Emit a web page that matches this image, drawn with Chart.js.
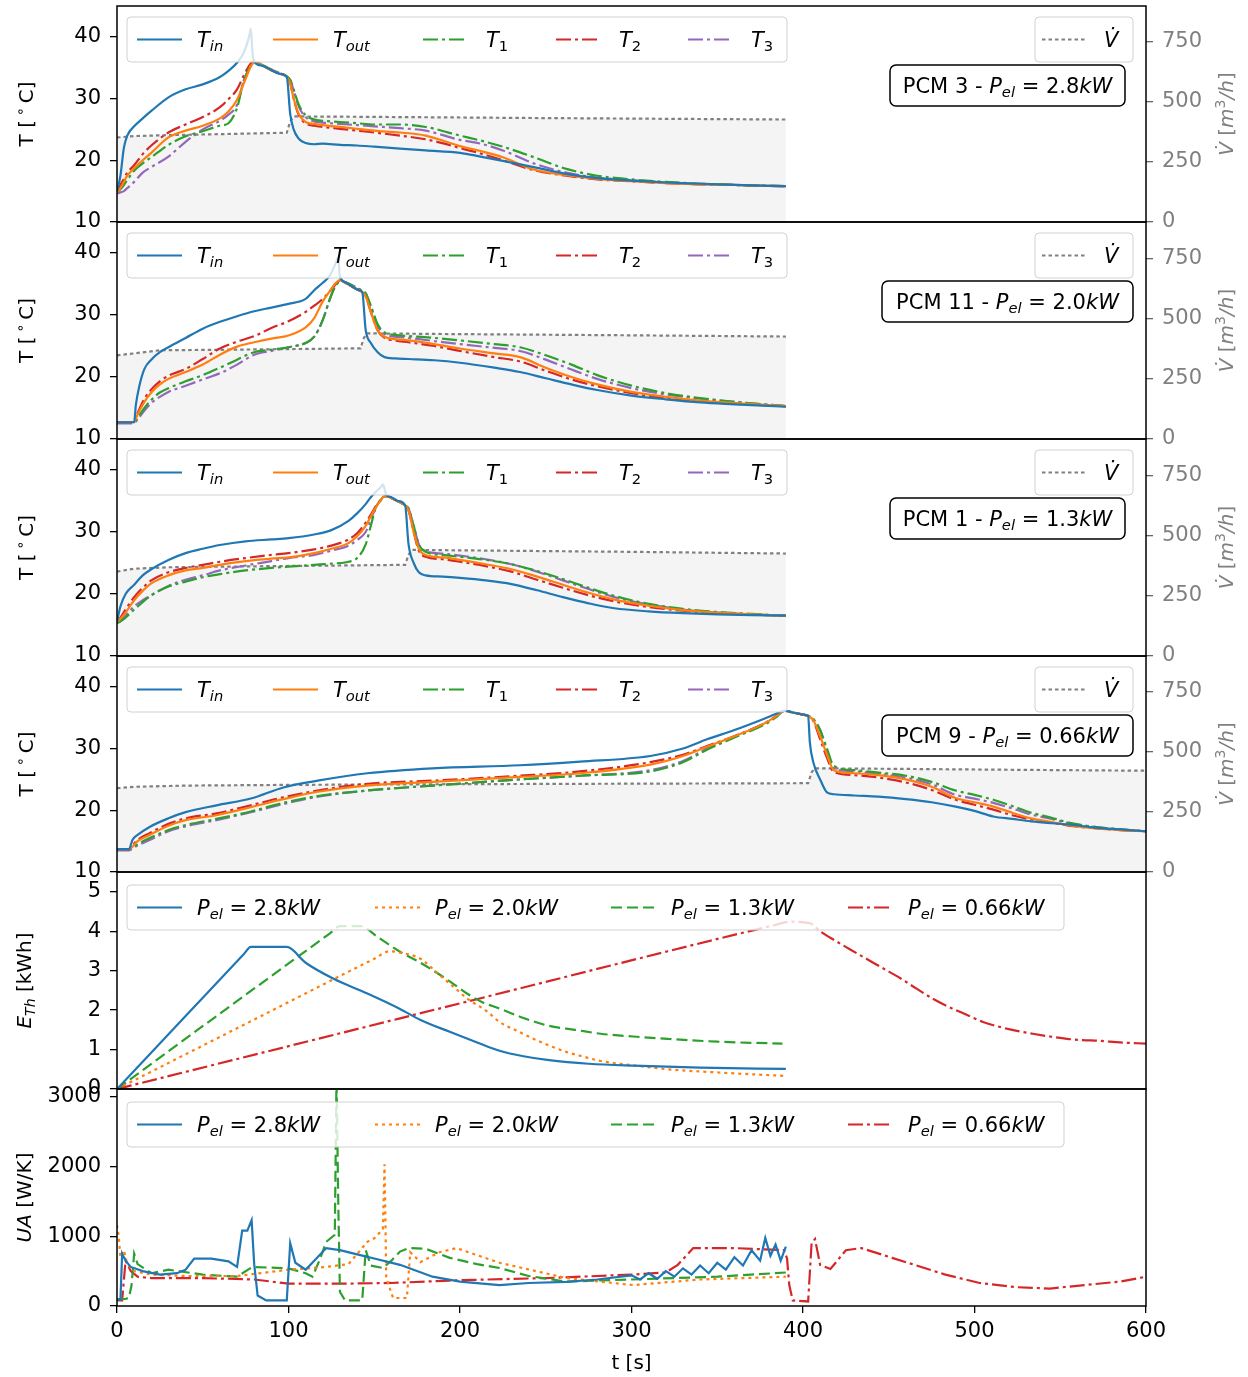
<!DOCTYPE html>
<html lang="en">
<head>
  <meta charset="UTF-8">
  <title>PCM storage tests</title>
  <script src="https://cdn.jsdelivr.net/npm/chart.js@4.4.0/dist/chart.umd.min.js"></script>
  <style>
    body { margin: 0; background: #fff; }
    #wrap { position: relative; width: 1248px; height: 1377px; }
    #wrap canvas { position: absolute; left: 0; top: 0; }
  </style>
</head>
<body>
  <div id="wrap"></div>

  <script>
    // ---------- data ----------
    const pcmNames = ['PCM 3', 'PCM 11', 'PCM 1', 'PCM 9'];
    const powers = ['2.8', '2.0', '1.3', '0.66'];

    // tick labels
    const tTicks = [10, 20, 30, 40];
    const vTicks = [0, 250, 500, 750];
    const eTicks = [0, 1, 2, 3, 4, 5];
    const uaTicks = [0, 1000, 2000, 3000];
    const xTicks = [0, 100, 200, 300, 400, 500, 600];

    // PCM 3, 2.8 kW
    const pcm3_t    = [0,2,4,6,10,15,20,30,40,50, 60,65,70,74,77,78,79,80,85,90, 95,99,101,103,106,110,115,120,130,140, 150,165,180,200,212,225,243,262,280,300, 320,340,360,390];
    const pcm3_tin  = [15.0,17.5,22.0,24.0,25.5,26.8,28.0,30.2,31.5,32.3, 33.5,34.5,35.8,37.5,40.0,41.3,37.5,36.0,35.3,34.6, 34.0,33.5,27.5,25.0,23.5,22.8,22.6,22.7,22.5,22.4, 22.2,21.9,21.6,21.2,20.6,19.9,18.9,17.8,17.1,16.7, 16.4,16.2,16.0,15.8];
    const pcm3_tout = [14.8,15.5,16.5,17.5,18.7,20.0,21.2,23.7,24.8,25.6, 26.8,27.9,29.8,32.5,34.6,35.3,35.6,36.0,35.3,34.6, 34.0,33.5,32.5,30.0,27.5,26.2,25.9,25.7,25.4,25.1, 24.8,24.5,24.0,22.3,21.5,20.5,18.5,17.6,17.0,16.6, 16.3,16.1,16.0,15.8];
    const pcm3_t1   = [14.8,15.3,16.0,16.8,18.3,19.5,20.5,22.5,23.9,24.7, 25.6,26.0,28.5,33.0,34.8,35.3,35.7,36.0,35.4,34.7, 34.1,33.6,33.0,31.5,29.0,27.3,26.6,26.4,26.2,26.0, 25.8,25.8,25.4,24.0,23.2,22.2,20.5,18.6,17.5,16.9, 16.5,16.2,16.0,15.8];
    const pcm3_t2   = [14.8,16.0,17.0,18.0,19.2,21.0,22.4,24.5,25.8,27.0, 28.6,29.9,31.5,33.8,35.3,35.7,36.0,36.1,35.3,34.6, 34.0,33.5,32.5,30.0,27.3,26.0,25.6,25.4,25.1,24.8, 24.5,24.0,23.4,22.0,21.1,20.0,18.4,17.5,16.9,16.6, 16.3,16.1,16.0,15.8];
    const pcm3_t3   = [14.6,14.8,15.0,15.5,16.5,18.0,18.9,20.6,23.0,25.0, 26.4,27.4,29.0,33.0,34.8,35.3,35.7,36.0,35.4,34.7, 34.1,33.6,33.0,31.3,28.7,27.0,26.3,26.1,25.9,25.7, 25.5,25.2,24.8,23.3,22.7,21.6,19.5,18.0,17.2,16.8, 16.4,16.2,16.0,15.8];
    const pcm3_vt   = [0,10,30,60,99,101,103,150,250,390];
    const pcm3_v    = [352,358,362,366,372,420,440,438,433,427];

    // PCM 11, 2.0 kW
    const pcm11_t    = [0,10,11,13,16,20,25,30,40,50, 60,70,80,90,100,110,115,120,124,127, 129,130,133,137,141,143,145,148,152,156, 162,170,185,200,220,235,250,265,280,300, 320,340,360,390];
    const pcm11_tin  = [12.7,12.7,15.5,18.5,21.3,22.8,24.0,24.8,26.3,27.8, 28.9,29.8,30.6,31.2,31.8,32.6,34.0,35.2,36.3,38.0, 39.2,36.2,35.3,34.6,34.0,33.7,27.6,25.5,24.0,23.2, 23.0,22.9,22.7,22.3,21.5,20.8,19.8,18.8,17.9,17.0, 16.4,15.9,15.6,15.2];
    const pcm11_tout = [12.7,12.7,13.3,14.5,16.0,17.5,18.8,19.7,20.8,22.0, 23.6,24.9,25.6,26.2,26.7,28.0,29.5,32.2,33.8,35.0, 35.5,35.6,35.2,34.6,34.0,33.7,33.0,30.5,27.5,26.5, 26.1,25.9,25.3,24.6,23.8,23.2,21.5,20.0,18.8,17.6, 16.8,16.2,15.8,15.3];
    const pcm11_t1   = [12.7,12.7,13.0,13.8,15.0,16.3,17.5,18.2,19.3,20.3, 21.5,22.8,24.0,24.4,24.8,25.5,26.5,29.2,32.5,34.5, 35.3,35.6,35.3,34.8,34.2,33.9,33.5,31.5,28.5,27.2, 26.8,26.6,26.3,25.9,25.3,24.8,23.5,22.0,20.3,18.6, 17.4,16.6,16.0,15.3];
    const pcm11_t2   = [12.7,12.7,13.5,14.8,16.5,18.0,19.3,20.2,21.3,22.9, 24.6,25.7,26.6,27.9,29.0,30.5,31.5,32.6,33.8,34.8, 35.4,35.6,35.2,34.6,34.0,33.7,33.0,30.5,27.5,26.3, 25.9,25.6,25.0,24.2,23.2,22.5,21.0,19.6,18.5,17.4, 16.6,16.1,15.7,15.3];
    const pcm11_t3   = [12.5,12.5,12.8,13.5,14.6,15.8,16.8,17.6,18.6,19.6, 20.6,22.0,23.6,24.2,24.8,25.5,26.5,29.2,32.5,34.5, 35.3,35.6,35.3,34.8,34.2,33.9,33.5,31.3,28.2,26.9, 26.5,26.3,25.8,25.3,24.7,24.2,22.8,21.2,19.7,18.2, 17.2,16.5,16.0,15.3];
    const pcm11_vt   = [0,10,25,60,142,144,146,200,300,390];
    const pcm11_v    = [347,355,368,370,376,420,438,435,430,425];

    // PCM 1, 1.3 kW
    const pcm1_t    = [0,2,5,10,15,20,30,40,50,60, 75,90,100,115,125,135,140,145,148,151, 154,155,157,160,164,168,170,173,176,180, 190,200,215,230,245,260,275,290,310,330, 350,370,390];
    const pcm1_tin  = [15.5,18.0,20.0,21.5,23.0,24.0,25.5,26.6,27.3,27.9, 28.5,28.8,29.0,29.6,30.3,31.8,33.0,34.5,35.6,36.5, 37.3,37.7,36.0,35.6,35.0,34.3,28.0,25.0,23.5,23.0, 22.8,22.6,22.2,21.6,20.6,19.5,18.5,17.7,17.2,16.9, 16.7,16.6,16.5];
    const pcm1_tout = [15.5,16.0,17.0,19.0,20.5,21.7,23.0,23.8,24.2,24.7, 25.3,25.7,25.9,26.6,27.3,28.2,29.3,31.0,32.5,34.0, 35.2,35.6,35.8,35.5,34.9,34.3,33.5,30.0,27.3,26.3, 25.9,25.5,24.8,24.0,22.8,21.5,20.2,19.1,18.1,17.4, 17.0,16.7,16.5];
    const pcm1_t1   = [15.3,15.6,16.2,17.5,18.7,19.8,21.2,22.0,22.7,23.2, 23.8,24.2,24.4,24.7,24.9,25.2,25.8,28.0,31.0,34.0, 35.2,35.6,35.8,35.5,34.9,34.3,33.8,31.0,28.0,26.8, 26.3,26.0,25.5,24.8,23.7,22.4,21.0,19.7,18.4,17.6, 17.1,16.8,16.5];
    const pcm1_t2   = [15.5,16.2,17.5,19.5,21.0,22.2,23.5,24.2,24.7,25.2, 25.8,26.3,26.6,27.2,27.8,28.8,29.8,31.5,32.8,34.2, 35.3,35.6,35.8,35.5,34.9,34.3,33.5,30.0,27.0,26.0, 25.6,25.2,24.5,23.6,22.3,21.0,19.8,18.8,17.9,17.3, 16.9,16.7,16.5];
    const pcm1_t3   = [15.3,15.6,16.5,18.0,19.0,19.8,21.3,22.3,23.0,23.8, 24.6,25.3,25.8,26.3,27.0,27.8,28.7,30.0,32.0,34.0, 35.2,35.6,35.8,35.5,34.9,34.3,33.8,31.0,28.0,26.9, 26.5,26.2,25.6,24.8,23.6,22.2,20.8,19.5,18.3,17.5, 17.0,16.7,16.5];
    const pcm1_vt   = [0,10,30,80,168,170,172,220,300,390];
    const pcm1_v    = [350,362,368,372,378,420,440,437,432,425];

    // PCM 9, 0.66 kW
    const pcm9_t    = [0,7,9,12,19,30,40,58,78,97, 117,146,184,235,270,311,330,344,360,377, 384,389,395,400,403,404,406,410,414,418, 430,444,460,475,489,500,511,522,533,545, 555,570,585,600];
    const pcm9_tin  = [13.7,13.7,15.2,16.0,17.3,18.7,19.7,20.8,21.9,23.7, 24.8,26.0,26.8,27.3,27.9,28.8,30.0,31.5,33.0,34.8, 35.6,36.1,35.8,35.5,35.3,31.0,27.8,25.0,22.9,22.6, 22.4,22.2,21.8,21.3,20.6,19.9,19.0,18.6,18.2,17.9, 17.7,17.2,16.9,16.6];
    const pcm9_tout = [13.7,13.7,14.1,15.0,16.0,17.5,18.4,19.2,20.5,21.8, 23.0,24.0,24.6,25.4,26.0,27.4,28.8,30.3,32.0,34.0, 35.2,36.1,35.8,35.5,35.3,35.1,34.6,32.0,29.0,26.5, 26.0,25.7,25.0,23.8,22.0,21.3,20.6,19.6,18.7,18.1, 17.6,17.1,16.8,16.6];
    const pcm9_t1   = [13.7,13.7,13.9,14.5,15.5,16.8,17.6,18.6,19.8,21.2, 22.3,23.2,24.0,25.0,25.6,26.3,27.8,29.8,31.8,33.8, 35.0,36.1,35.8,35.5,35.3,35.2,34.8,33.0,30.0,27.2, 26.5,26.1,25.6,24.6,23.2,22.5,21.7,20.7,19.6,18.8, 18.0,17.3,16.9,16.6];
    const pcm9_t2   = [13.7,13.7,14.3,15.2,16.3,17.8,18.7,19.5,20.8,22.1, 23.2,24.3,24.8,25.6,26.3,27.8,29.0,30.4,32.0,34.0, 35.2,36.1,35.8,35.5,35.3,35.1,34.5,31.5,28.5,26.2, 25.7,25.3,24.5,23.3,21.7,20.9,20.1,19.2,18.5,18.0, 17.5,17.1,16.8,16.6];
    const pcm9_t3   = [13.5,13.5,13.8,14.3,15.2,16.6,17.4,18.4,19.7,21.0, 22.2,23.2,24.0,25.0,25.6,26.5,28.0,30.0,32.0,34.0, 35.1,36.1,35.8,35.5,35.3,35.2,34.8,33.0,29.5,26.8, 26.3,25.9,25.3,24.2,22.5,21.9,21.2,20.3,19.3,18.6, 17.9,17.3,16.9,16.6];
    const pcm9_vt   = [0,10,40,100,200,300,403,405,407,450,520,600];
    const pcm9_v    = [349,355,360,363,366,368,370,415,432,430,426,422];

    // thermal energy E_Th [kWh]
    const eth28_t  = [0,40,74,78,99,110,126,146,165,177,194,210,223,237,252,275,301,340,390];
    const eth28    = [0,1.85,3.42,3.6,3.6,3.2,2.8,2.42,2.03,1.75,1.45,1.18,0.97,0.83,0.73,0.64,0.59,0.54,0.51];
    const eth20_t  = [0,80,150,159,166,177,188,196,204,216,223,233,243,252,262,272,282,301,321,350,390];
    const eth20    = [0,1.76,3.3,3.49,3.45,3.3,2.89,2.6,2.3,1.96,1.7,1.48,1.27,1.1,0.94,0.82,0.71,0.6,0.5,0.42,0.33];
    const eth13_t  = [0,65,124,130,142,152,165,177,194,204,213,223,237,252,267,282,301,321,350,388];
    const eth13    = [0,2.07,3.94,4.13,4.13,3.85,3.48,3.2,2.73,2.42,2.2,2.04,1.8,1.6,1.5,1.4,1.33,1.27,1.2,1.15];
    const eth066_t = [0,200,384,392,404,410,418,427,437,447,457,466,476,486,496,505,515,524,534,544,554,563,573,585,600];
    const eth066   = [0,2.17,4.16,4.24,4.2,4.0,3.78,3.55,3.3,3.05,2.8,2.55,2.28,2.06,1.87,1.7,1.57,1.48,1.4,1.33,1.27,1.24,1.22,1.18,1.15];

    // heat transfer UA [W/K]
    const ua28_t  = [0,2,3,5,8,15,25,35,40,45, 55,65,70,73,76,78.5,80,82,87,99, 101,104,110,115,122,130,140,150,165,184, 200,223,240,262,280,300,305,310,315,320, 325,330,335,340,345,350,355,360,365,370, 375,378,381,384,387,390];
    const ua28    = [90,90,750,650,560,500,450,470,520,680, 680,640,560,1080,1080,1230,600,150,80,80, 900,620,520,650,830,800,740,680,590,420, 350,300,330,345,380,440,380,470,390,500, 420,540,450,580,470,620,520,700,580,800, 650,975,720,880,650,850];
    const ua20_t  = [0,1,2,4,6,10,20,40,70,100,122,135,146,150,155,156,157,161,169,171,177,188,198,223,262,301,340,390];
    const ua20    = [1160,1000,700,800,600,500,450,430,430,520,560,600,920,970,1100,2030,400,115,115,770,630,770,830,620,400,300,380,420];
    const ua13_t  = [0,5,7,8.5,10,12,20,30,50,70,79,100,110,114,118,122,127,128,129,130,133,143,145,148,155,160,165,170,180,194,210,223,240,262,300,350,390];
    const ua13    = [100,100,120,300,750,600,470,520,450,420,560,540,470,420,650,920,1020,3300,1500,200,80,80,800,580,545,650,780,830,820,690,600,545,430,350,380,420,480];
    const ua066_t = [0,3,5,8,12,20,50,80,100,130,160,200,250,300,320,327,336,360,389,390.7,392,394,403,405,407,410,416,425,434,452,483,503,524,544,564,585,600];
    const ua066   = [80,80,650,500,420,400,400,380,320,320,330,370,400,450,480,590,830,830,800,680,300,80,65,900,960,590,530,800,830,690,450,330,270,250,300,350,420];

    // ---------- layout / style ----------
    const W = 1248, H = 1377, PLOT_L = 117, PLOT_R = 1146, X_H = 40;
    const ROWS = [6, 222, 439, 656, 872, 1089, 1306];
    const FAMILY = '"DejaVu Sans", sans-serif';
    const TICK_FONT = { family: 'DejaVu Sans', size: 21 };
    const TXT = 21;
    const C = { blue: '#1f77b4', orange: '#ff7f0e', green: '#2ca02c', red: '#d62728', purple: '#9467bd', gray: '#808080' };
    const DASHDOT = [15, 4, 3, 4], DASHED = [11, 5], DOTTED = [3, 4], VDOT = [3.5, 3];

    function font(size, it) { return (it ? 'italic ' : '') + size + 'px ' + FAMILY; }

    function richWidth(ctx, segs, size) {
      let w = 0;
      segs.forEach(s => {
        ctx.font = font(s.sub || s.sup ? size * 0.7 : size, s.it);
        w += ctx.measureText(s.t).width;
      });
      return w;
    }

    function richDraw(ctx, segs, x, y, size, color) {
      ctx.fillStyle = color;
      ctx.textAlign = 'left';
      ctx.textBaseline = 'alphabetic';
      segs.forEach(s => {
        ctx.font = font(s.sub || s.sup ? size * 0.7 : size, s.it);
        const dy = s.sub ? size * 0.22 : s.sup ? -size * 0.42 : 0;
        ctx.fillText(s.t, x, y + dy);
        x += ctx.measureText(s.t).width;
      });
    }

    function roundRect(ctx, x, y, w, h, r) {
      ctx.beginPath();
      ctx.moveTo(x + r, y);
      ctx.arcTo(x + w, y, x + w, y + h, r);
      ctx.arcTo(x + w, y + h, x, y + h, r);
      ctx.arcTo(x, y + h, x, y, r);
      ctx.arcTo(x, y, x + w, y, r);
      ctx.closePath();
    }

    function drawLegend(ctx, lg) {
      roundRect(ctx, lg.x, lg.y, lg.w, lg.h, 4);
      ctx.fillStyle = 'rgba(255,255,255,0.8)';
      ctx.fill();
      ctx.strokeStyle = 'rgba(204,204,204,0.9)';
      ctx.lineWidth = 1;
      ctx.setLineDash([]);
      ctx.stroke();
      const cy = lg.y + lg.h / 2;
      lg.items.forEach(it => {
        ctx.beginPath();
        ctx.setLineDash(it.dash);
        ctx.strokeStyle = it.color;
        ctx.lineWidth = 2.2;
        ctx.moveTo(it.sx, cy);
        ctx.lineTo(it.sx + 45, cy);
        ctx.stroke();
        ctx.setLineDash([]);
        richDraw(ctx, it.label, it.tx, cy + 7, TXT, '#000');
      });
    }

    function drawNote(ctx, n) {
      roundRect(ctx, n.x, n.y, n.w, n.h, 6);
      ctx.fillStyle = '#fff';
      ctx.fill();
      ctx.strokeStyle = '#000';
      ctx.lineWidth = 1.5;
      ctx.setLineDash([]);
      ctx.stroke();
      const w = richWidth(ctx, n.label, TXT);
      richDraw(ctx, n.label, n.x + (n.w - w) / 2, n.y + n.h / 2 + 7, TXT, '#000');
    }

    function drawTitle(ctx, tt) {
      const w = richWidth(ctx, tt.segs, 20);
      ctx.save();
      ctx.translate(tt.x, tt.y);
      if (tt.rot) ctx.rotate(-Math.PI / 2);
      richDraw(ctx, tt.segs, -w / 2, 7, 20, tt.color);
      ctx.restore();
    }

    function decoPlugin(spec) {
      return {
        id: 'deco',
        afterDraw(chart) {
          const ctx = chart.ctx, a = chart.chartArea;
          ctx.save();
          (spec.legends || []).forEach(lg => drawLegend(ctx, lg));
          (spec.notes || []).forEach(n => drawNote(ctx, n));
          ctx.strokeStyle = '#000';
          ctx.lineWidth = 1.5;
          ctx.setLineDash([]);
          ctx.strokeRect(a.left, a.top, a.right - a.left, a.bottom - a.top);
          (spec.titles || []).forEach(tt => drawTitle(ctx, tt));
          ctx.restore();
        }
      };
    }

    const pts = (ts, vs) => ts.map((t, i) => ({ x: t, y: vs[i] }));
    const fixTicks = list => s => { s.ticks = list.map(v => ({ value: v })); };

    function leftAxis(min, max, list) {
      return {
        position: 'left', min, max,
        afterBuildTicks: fixTicks(list),
        afterFit: s => { s.width = PLOT_L; s.paddingTop = 0; s.paddingBottom = 0; },
        ticks: { color: '#000', padding: 9, font: TICK_FONT, callback: v => String(v) },
        grid: { drawOnChartArea: false, tickLength: 7, color: '#000', lineWidth: 1.3 },
        border: { display: false }
      };
    }

    function rightAxis() {
      return {
        position: 'right', min: 0, max: 900,
        afterBuildTicks: fixTicks(vTicks),
        afterFit: s => { s.width = W - PLOT_R; s.paddingTop = 0; s.paddingBottom = 0; },
        ticks: { color: C.gray, padding: 9, font: TICK_FONT, callback: v => String(v) },
        grid: { drawOnChartArea: false, tickLength: 7, color: '#666', lineWidth: 1.3 },
        border: { display: false }
      };
    }

    function xAxis(show) {
      const ax = { type: 'linear', min: 0, max: 600, display: show };
      if (show) Object.assign(ax, {
        afterBuildTicks: fixTicks(xTicks),
        afterFit: s => { s.height = X_H; s.paddingLeft = 0; s.paddingRight = 0; },
        ticks: { color: '#000', padding: 6, maxRotation: 0, autoSkip: false, font: TICK_FONT, callback: v => String(v) },
        grid: { drawOnChartArea: false, tickLength: 7, color: '#000', lineWidth: 1.3 },
        border: { display: false }
      });
      return ax;
    }

    function makeChart(row, datasets, scales, spec, showX) {
      const cv = document.createElement('canvas');
      cv.width = W; cv.height = H;
      document.getElementById('wrap').appendChild(cv);
      const top = ROWS[row], bottom = ROWS[row + 1];
      return new Chart(cv, {
        type: 'line',
        data: { datasets },
        options: {
          responsive: false, animation: false, events: [],
          layout: { padding: { top, left: 0, right: scales.y2 ? 0 : W - PLOT_R, bottom: H - bottom - (showX ? X_H : 0) } },
          elements: { point: { radius: 0 } },
          plugins: { legend: { display: false }, tooltip: { enabled: false } },
          scales
        },
        plugins: [decoPlugin(spec)]
      });
    }

    const tLabel = [{ t: 'T [\u2009' }, { t: '\u2218', sup: 1 }, { t: '\u2009C]' }];
    const vLabel = [{ t: 'V\u0307', it: 1 }, { t: ' [' }, { t: 'm', it: 1 }, { t: '3', sup: 1 }, { t: '/h', it: 1 }, { t: ']' }];
    const pel = p => [{ t: 'P', it: 1 }, { t: 'el', it: 1, sub: 1 }, { t: ' = ' }, { t: p }, { t: 'kW', it: 1 }];
    const tSub = (s, it) => [{ t: 'T', it: 1 }, { t: s, it, sub: 1 }];

    // ---------- temperature panels ----------
    const tPanels = [
      { t: pcm3_t, s: [pcm3_tin, pcm3_tout, pcm3_t1, pcm3_t2, pcm3_t3], vt: pcm3_vt, v: pcm3_v, note: [890, 235] },
      { t: pcm11_t, s: [pcm11_tin, pcm11_tout, pcm11_t1, pcm11_t2, pcm11_t3], vt: pcm11_vt, v: pcm11_v, note: [882, 251] },
      { t: pcm1_t, s: [pcm1_tin, pcm1_tout, pcm1_t1, pcm1_t2, pcm1_t3], vt: pcm1_vt, v: pcm1_v, note: [890, 235] },
      { t: pcm9_t, s: [pcm9_tin, pcm9_tout, pcm9_t1, pcm9_t2, pcm9_t3], vt: pcm9_vt, v: pcm9_v, note: [882, 251] }
    ];
    const tStyles = [
      { color: C.blue, dash: [], label: tSub('in', 1), sx: 137, tx: 197 },
      { color: C.orange, dash: [], label: tSub('out', 1), sx: 273, tx: 333 },
      { color: C.green, dash: DASHDOT, label: tSub('1', 0), sx: 423, tx: 486 },
      { color: C.red, dash: DASHDOT, label: tSub('2', 0), sx: 556, tx: 619 },
      { color: C.purple, dash: DASHDOT, label: tSub('3', 0), sx: 688, tx: 751 }
    ];

    tPanels.forEach((p, i) => {
      const top = ROWS[i], mid = (ROWS[i] + ROWS[i + 1]) / 2;
      const datasets = p.s.map((vals, k) => ({
        data: pts(p.t, vals), yAxisID: 'y',
        borderColor: tStyles[k].color, borderDash: tStyles[k].dash, borderWidth: 2.2,
        cubicInterpolationMode: 'monotone', order: 1
      }));
      datasets.push({
        data: pts(p.vt, p.v), yAxisID: 'y2',
        borderColor: C.gray, borderDash: VDOT, borderWidth: 2.2,
        fill: 'origin', backgroundColor: '#f4f4f4', tension: 0, order: 10
      });
      makeChart(i, datasets, { x: xAxis(false), y: leftAxis(10, 45, tTicks), y2: rightAxis() }, {
        legends: [
          { x: 127, y: top + 11, w: 660, h: 45, items: tStyles },
          { x: 1035, y: top + 11, w: 98, h: 45, items: [{ color: C.gray, dash: VDOT, label: [{ t: 'V\u0307', it: 1 }], sx: 1042, tx: 1104 }] }
        ],
        notes: [{ x: p.note[0], y: top + 59, w: p.note[1], h: 41, label: [{ t: pcmNames[i] + ' - ' }].concat(pel(powers[i])) }],
        titles: [
          { x: 26, y: mid, rot: 1, segs: tLabel, color: '#000' },
          { x: 1226, y: mid, rot: 1, segs: vLabel, color: C.gray }
        ]
      }, false);
    });

    // ---------- energy and UA panels ----------
    const pStyles = [
      { color: C.blue, dash: [], label: pel(powers[0]), sx: 137, tx: 197 },
      { color: C.orange, dash: DOTTED, label: pel(powers[1]), sx: 375, tx: 435 },
      { color: C.green, dash: DASHED, label: pel(powers[2]), sx: 611, tx: 671 },
      { color: C.red, dash: DASHDOT, label: pel(powers[3]), sx: 848, tx: 908 }
    ];

    function powerPanel(row, series, yMax, ticks, title, smooth, showX) {
      const top = ROWS[row], mid = (ROWS[row] + ROWS[row + 1]) / 2;
      const datasets = series.map((s, k) => ({
        data: pts(s[0], s[1]),
        borderColor: pStyles[k].color, borderDash: pStyles[k].dash, borderWidth: 2.2,
        tension: 0, cubicInterpolationMode: smooth ? 'monotone' : 'default'
      }));
      const titles = [{ x: 24, y: mid, rot: 1, segs: title, color: '#000' }];
      if (showX) titles.push({ x: (PLOT_L + PLOT_R) / 2, y: 1362, rot: 0, segs: [{ t: 't [s]' }], color: '#000' });
      makeChart(row, datasets, { x: xAxis(showX), y: leftAxis(0, yMax, ticks) }, {
        legends: [{ x: 127, y: top + 13, w: 937, h: 45, items: pStyles }],
        titles
      }, showX);
    }

    powerPanel(4, [[eth28_t, eth28], [eth20_t, eth20], [eth13_t, eth13], [eth066_t, eth066]],
      5.5, eTicks, [{ t: 'E', it: 1 }, { t: 'Th', it: 1, sub: 1 }, { t: ' [kWh]' }], true, false);
    powerPanel(5, [[ua28_t, ua28], [ua20_t, ua20], [ua13_t, ua13], [ua066_t, ua066]],
      3110, uaTicks, [{ t: 'UA', it: 1 }, { t: ' [W/K]' }], false, true);
  </script>
</body>
</html>
